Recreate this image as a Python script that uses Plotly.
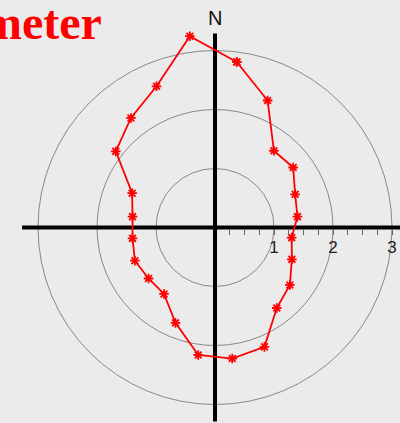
import numpy as np
import plotly.graph_objects as go

# compass bearings (deg, clockwise from N) and measured radius
bearing = [7.5, 22.5, 37.5, 52.5, 67.5, 82.5, 97.5, 112.5, 127.5, 142.5,
           157.5, 172.5, 187.5, 202.5, 217.5, 232.5, 247.5, 262.5, 277.5,
           292.5, 307.5, 322.5, 337.5, 352.5]
radius = [2.83, 2.33, 1.64, 1.67, 1.47, 1.41, 1.31, 1.41, 1.60, 1.72,
          2.19, 2.24, 2.18, 1.75, 1.42, 1.42, 1.47, 1.41, 1.41,
          1.52, 2.12, 2.34, 2.59, 3.27]
rings = [1, 2, 3]
ring_labels = ["1", "2", "3"]
title_text = "Diameter"

W, H = 400, 423
px_unit = 59.0
cx, cy = 215.0, 227.5

b = np.radians(np.array(bearing + bearing[:1]))
r = np.array(radius + radius[:1])
xs = r * np.sin(b)
ys = r * np.cos(b)

fig = go.Figure()

fig.add_trace(go.Scatter(
    x=xs, y=ys, mode='lines+markers',
    line=dict(color='#ff0000', width=1.8),
    marker=dict(symbol='asterisk-open', size=8,
                line=dict(color='#ff0000', width=1.8)),
    showlegend=False, hoverinfo='skip'))

shapes = []
for rr in rings:
    shapes.append(dict(type='circle', xref='x', yref='y', layer='below',
                       x0=-rr, y0=-rr, x1=rr, y1=rr,
                       line=dict(color='#888888', width=1)))
# compass cross
shapes.append(dict(type='line', xref='x', yref='y', layer='below',
                   x0=-3.27, y0=0, x1=3.3, y1=0,
                   line=dict(color='black', width=4)))
shapes.append(dict(type='line', xref='x', yref='y', layer='below',
                   x0=0, y0=-3.29, x1=0, y1=3.29,
                   line=dict(color='black', width=4)))

tick_vals = [0.25 * k for k in range(1, 13)]
tick_text = [ring_labels[rings.index(int(v))] if v in rings else "" for v in tick_vals]

fig.update_layout(
    width=W, height=H, autosize=False,
    margin=dict(l=0, r=0, t=0, b=0),
    paper_bgcolor='#ebebeb', plot_bgcolor='#ebebeb',
    shapes=shapes,
    xaxis=dict(range=[-cx / px_unit, (W - cx) / px_unit],
               showgrid=False, zeroline=False, showline=False,
               anchor='free', position=(H - cy) / H,
               ticks='outside', ticklen=6, tickwidth=1, tickcolor='#666666',
               tickvals=tick_vals, ticktext=tick_text,
               ticklabelstandoff=-2,
               tickfont=dict(family='Liberation Sans, Arial', size=17, color='#222222')),
    yaxis=dict(range=[-(H - cy) / px_unit, cy / px_unit],
               showgrid=False, zeroline=False, showline=False,
               showticklabels=False, ticks=''),
    font=dict(family='Liberation Sans, Arial'),
    annotations=[
        dict(text='N', xref='x', yref='paper', x=0, y=1 - 18 / H,
             showarrow=False, xanchor='center', yanchor='middle',
             font=dict(size=20, color='#111111')),
        dict(text='<b>' + title_text + '</b>', xref='paper', yref='paper',
             x=104 / W, y=1 - 23 / H, showarrow=False,
             xanchor='right', yanchor='middle',
             font=dict(family='Liberation Serif, Times New Roman', size=48,
                       color='#ff0000')),
    ],
)

# drop the default page margin so the figure fills the window
fig.write_html("out.html", config={'displayModeBar': False},
               post_script="document.body.style.margin='0';")
